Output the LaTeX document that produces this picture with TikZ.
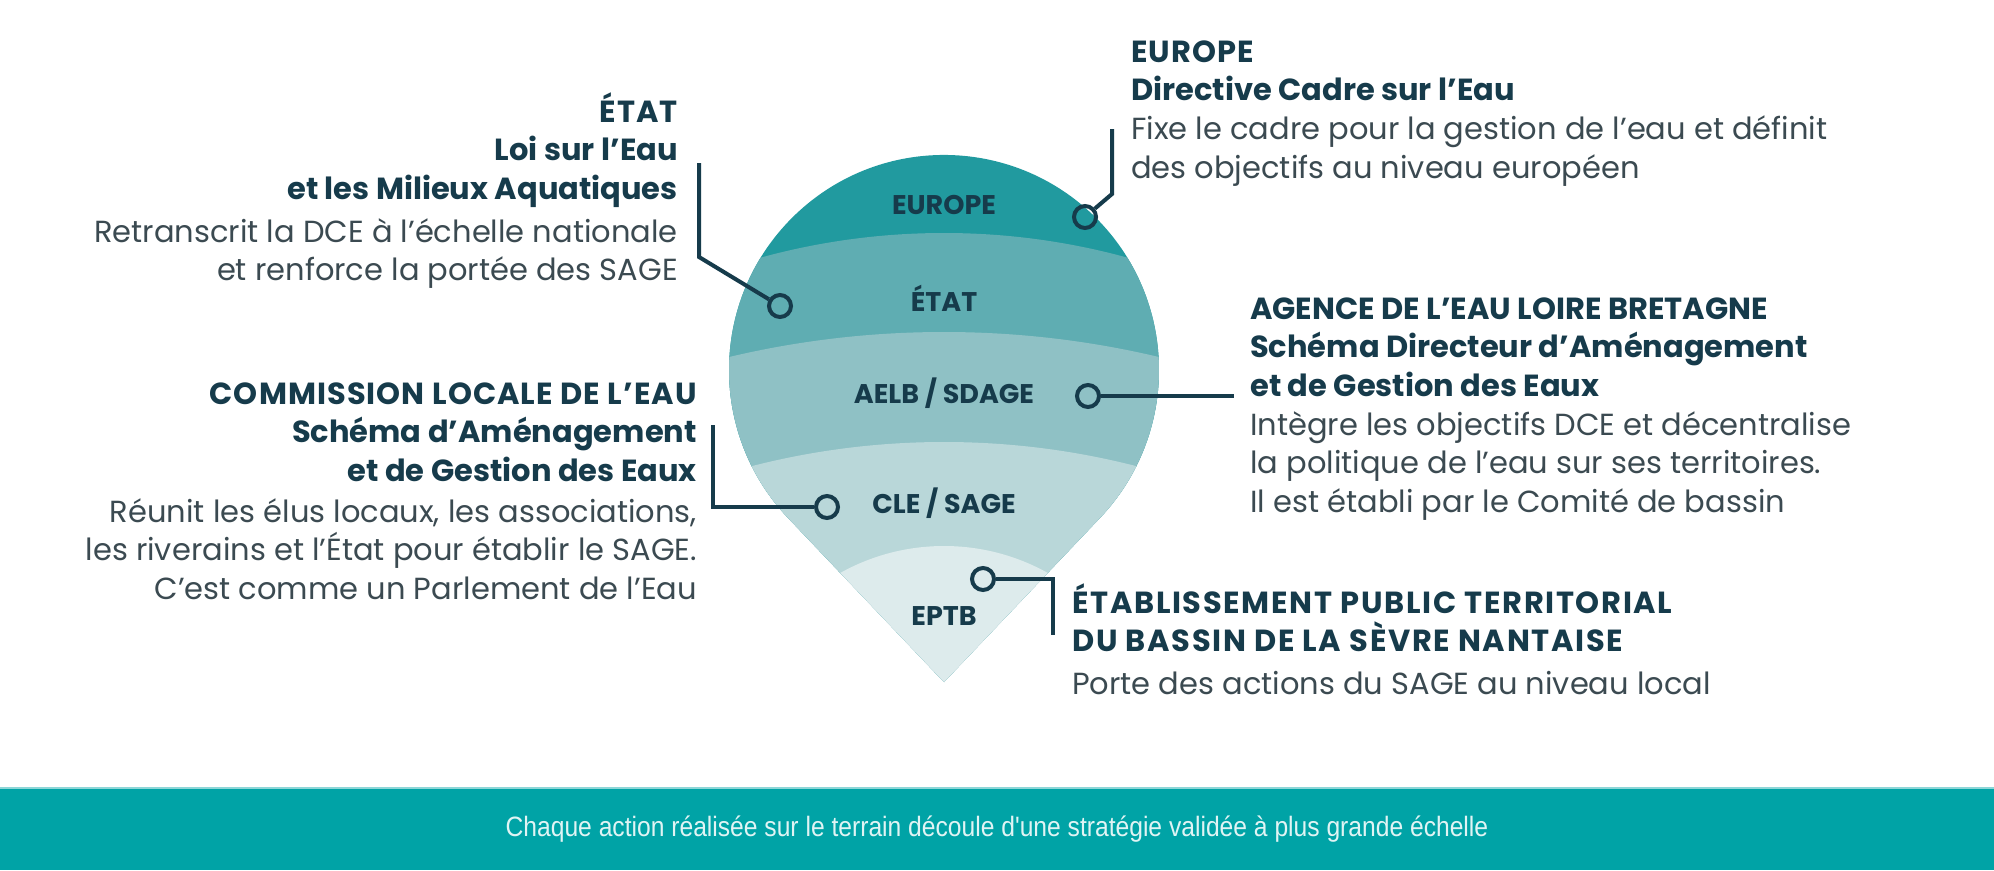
\documentclass[tikz,border=0pt]{standalone}
\usepackage{fontspec}
\setmainfont{Poppins}
\newfontfamily\bannerfont{Liberation Sans}
\usetikzlibrary{positioning}
\definecolor{navy}{HTML}{163B4B}
\definecolor{bodygray}{HTML}{3B4A51}
\definecolor{euroC}{HTML}{219A9F}
\definecolor{etatC}{HTML}{5FADB2}
\definecolor{aelbC}{HTML}{8FC1C5}
\definecolor{cleC}{HTML}{B9D7D9}
\definecolor{eptbC}{HTML}{DDEBEC}
\definecolor{bannerC}{HTML}{00A3A6}
\newcommand{\headline}[1]{{\color{navy}\bfseries #1}}
\newcommand{\capsline}[2][3.5]{{\color{navy}\bfseries\addfontfeature{LetterSpace=#1}#2}}
\newcommand{\topline}{\rule{0pt}{30pt}}
\tikzstyle{pinRing} = [circle, draw=navy, line width=4pt, minimum size=22pt, inner sep=0pt]
\tikzstyle{wire} = [draw=navy, line width=4pt]
\tikzstyle{layerLabel} = [font=\fontsize{27}{30}\selectfont\bfseries, text=navy]
\tikzstyle{infoR} = [align=right, anchor=north east, inner sep=0pt, text=bodygray, font=\fontsize{30.5}{38.6}\selectfont]
\tikzstyle{infoL} = [infoR, align=left, anchor=north west]
\tikzstyle{bannerText} = [font=\bannerfont\fontsize{28}{32}\selectfont, text=white!88!bannerC]

\begin{document}
\begin{tikzpicture}[x=1pt, y=-1pt]
        \fill[white] (0,0) rectangle (1994,870);
        \useasboundingbox (0,0) rectangle (1994,870);

        % the drop and its layers
        \begin{scope}
        \clip (944,682) -- (788.3,518.2) arc[start angle=136.4, end angle=403.6, radius=215] -- cycle;
        \fill[euroC] (700,140) rectangle (1200,700);
        \fill[etatC] (944,923) circle[radius=690];
        \fill[aelbC] (944,1260) circle[radius=928];
        \fill[cleC] (944,1214) circle[radius=772];
        \fill[eptbC] (944,759) circle[radius=213];
        \end{scope}

        \node (lEurope) [layerLabel] at (944,205) {EUROPE};
        \node (lEtat) [layerLabel] at (944,298) {ÉTAT};
        \node (lAelb) [layerLabel] at (944,393) {AELB / SDAGE};
        \node (lCle) [layerLabel] at (944,503) {CLE / SAGE};
        \node (lEptb) [layerLabel] at (944,616) {EPTB};

        % pins and their wires
        \node (pEurope) [pinRing] at (1085,217) {};
        \node (pEtat) [pinRing] at (780,306) {};
        \node (pAelb) [pinRing] at (1088,396) {};
        \node (pCle) [pinRing] at (827,507) {};
        \node (pEptb) [pinRing] at (983,579) {};
        \coordinate (kEurope) at (1112,194);
        \coordinate (eEurope) at (1112,129);
        \coordinate (kEtat) at (699,257);
        \coordinate (eEtat) at (699,163);
        \coordinate (eAelb) at (1234,396);
        \coordinate (eCle) at (713,425);
        \coordinate (eEptb) at (1053,635);

        \draw [wire] (pEurope) -- (kEurope) -- (eEurope);
        \draw [wire] (pEtat) -- (kEtat) -- (eEtat);
        \draw [wire] (pAelb) -- (eAelb);
        \draw [wire] (pCle) -| (eCle);
        \draw [wire] (pEptb) -| (eEptb);

        % texts
        \node (tEurope) [infoL] at (1131,32) {\topline\capsline{EUROPE}\\
        \headline{Directive Cadre sur l’Eau}\\
        Fixe le cadre pour la gestion de l'eau et définit\\
        des objectifs au niveau européen};
        \node (tEtat) [infoR] at (678,92) {\topline\capsline{ÉTAT}\\
        \headline{Loi sur l’Eau}\\
        \headline{et les Milieux Aquatiques}\\[4pt]
        Retranscrit la DCE à l’échelle nationale\\
        et renforce la portée des SAGE};
        \node (tAelb) [infoL] at (1250,289) {\topline\headline{AGENCE DE L’EAU LOIRE BRETAGNE}\\
        \headline{Schéma Directeur d’Aménagement}\\
        \headline{et de Gestion des Eaux}\\
        Intègre les objectifs DCE et décentralise\\
        la politique de l'eau sur ses territoires.\\
        Il est établi par le Comité de bassin};
        \node (tCle) [infoR] at (697,374) {\topline\capsline{COMMISSION LOCALE DE L’EAU}\\
        \headline{Schéma d’Aménagement}\\
        \headline{et de Gestion des Eaux}\\[2pt]
        Réunit les élus locaux, les associations,\\
        les riverains et l’État pour établir le SAGE.\\
        C’est comme un Parlement de l’Eau};
        \node (tEptb) [infoL] at (1072,583) {\topline\capsline[5.5]{ÉTABLISSEMENT PUBLIC TERRITORIAL}\\
        \capsline[5.5]{DU BASSIN DE LA SÈVRE NANTAISE}\\[4pt]
        Porte des actions du SAGE au niveau local};

        % banner
        \fill[bannerC] (0,788) rectangle (1994,870);
        \draw[bannerC!45, line width=1.5pt] (0,788) -- (1994,788);
        \node (motto) [bannerText] at (997,829) {\scalebox{0.88}[1]{Chaque action réalisée sur le terrain découle d'une stratégie validée à plus grande échelle}};
\end{tikzpicture}
\end{document}
